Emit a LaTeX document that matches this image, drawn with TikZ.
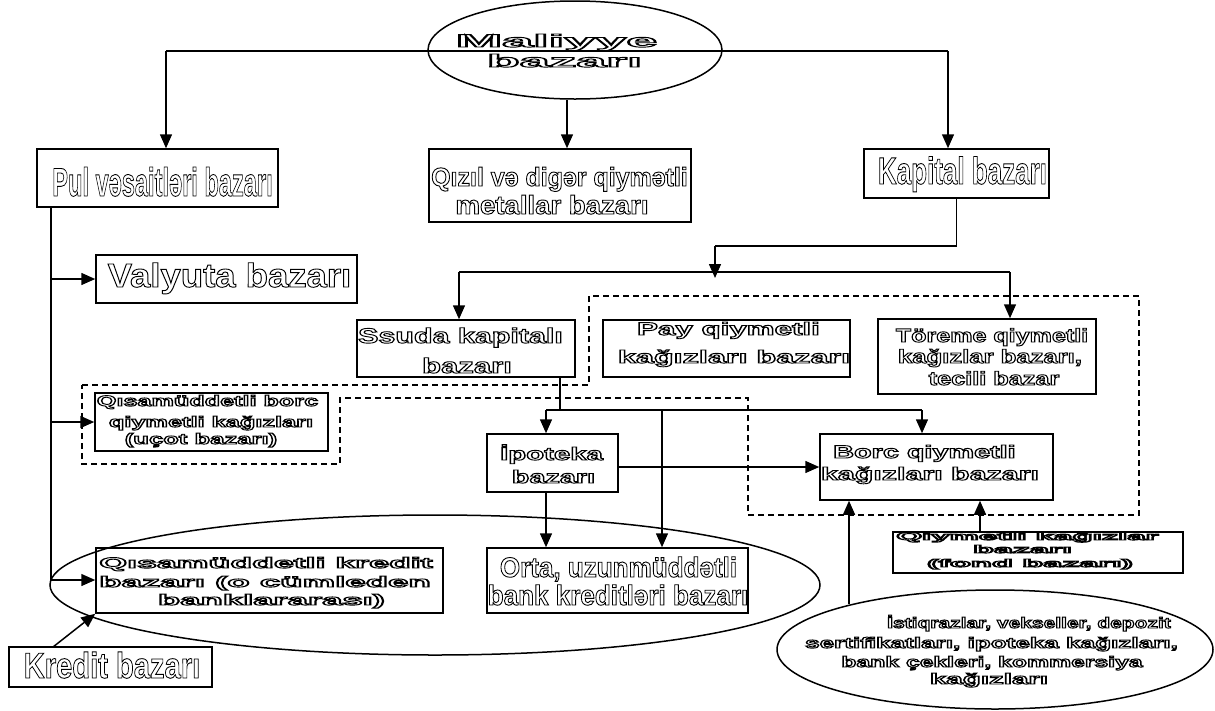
\documentclass[tikz,border=0pt]{standalone}
\usepackage{fontspec}
\setmainfont{Liberation Sans}
\usepackage{graphicx}
\usetikzlibrary{arrows.meta,shapes.geometric}
\newcommand\hollowtext{\special{pdf:literal direct 1 Tr 0.9 w}}
\newcommand\solidtext{\special{pdf:literal direct 0 Tr}}
\newcommand\tline[6]{\node[txt,font=\bfseries\fontsize{#4}{#4}\selectfont] (#1) at (#2,#3) {\hollowtext\scalebox{#5}[1]{#6}\solidtext};}
\begin{document}
\begin{tikzpicture}[x=1pt,y=-1pt,
  box/.style={draw,rectangle,line width=1.5pt,inner sep=0pt},
  ell/.style={draw,ellipse,line width=1.5pt,inner sep=0pt},
  conn/.style={line width=1.5pt},
  arr/.style={line width=1.5pt,-{Triangle[length=14pt,width=12pt]}},
  dsh/.style={line width=1.4pt,dash pattern=on 6pt off 4pt},
  txt/.style={anchor=base,inner sep=0pt}]
\useasboundingbox (0,0) rectangle (1215,710);

% ellipses
\node[ell,minimum width=294pt,minimum height=98pt] (mal) at (575,50) {};
\node[ell,minimum width=770pt,minimum height=140pt] (kell) at (435,585) {};
\node[ell,minimum width=436pt,minimum height=119pt] (iell) at (995,649.5) {};

% boxes
\node[box,minimum width=241pt,minimum height=58pt] (pul) at (157.5,178) {};
\node[box,minimum width=262pt,minimum height=73pt] (qiz) at (560,185.5) {};
\node[box,minimum width=185pt,minimum height=49pt] (kap) at (956.5,173.5) {};
\node[box,minimum width=261pt,minimum height=48pt] (val) at (226.5,279) {};
\node[box,minimum width=218pt,minimum height=57pt] (ssu) at (466,348.5) {};
\node[box,minimum width=247pt,minimum height=57pt] (pay) at (726.5,348.5) {};
\node[box,minimum width=218pt,minimum height=75pt] (tor) at (987,356.5) {};
\node[box,minimum width=233pt,minimum height=58pt] (qbo) at (211.5,422) {};
\node[box,minimum width=131pt,minimum height=58pt] (ipo) at (552.5,463) {};
\node[box,minimum width=233pt,minimum height=66pt] (bor) at (936.5,467) {};
\node[box,minimum width=261pt,minimum height=65pt] (ort) at (617.5,580.5) {};
\node[box,minimum width=347pt,minimum height=65pt] (qkr) at (269.5,580.5) {};
\node[box,minimum width=203pt,minimum height=40pt] (kre) at (110.5,667) {};
\node[box,minimum width=290pt,minimum height=41pt] (fon) at (1038,552.5) {};

% dashed region
\draw[dsh] (82,385) -- (589,385) -- (589,296) -- (1139,296) -- (1139,515) -- (748,515)
  -- (748,398) -- (340,398) -- (340,464) -- (82,464) -- cycle;

% connectors from Maliyye bazari
\coordinate (jl) at (166,51);
\coordinate (jr) at (948,51);
\draw[conn] (jl) -- (jr);
\draw[arr] (jl) -- (jl |- pul.north);
\draw[arr] (jr) -- (jr |- kap.north);
\draw[arr] ([xshift=-8pt]mal.south) -- ([xshift=-8pt]mal.south |- qiz.north);

% Pul vesaitleri branch
\coordinate (pl) at (51,580);
\draw[conn] (pul.south -| pl) -- (pl);
\draw[arr] (pl |- val.west) -- (val.west);
\draw[arr] (pl |- qbo.west) -- (qbo.west);
\draw[arr] (pl) -- (pl -| qkr.west);
\coordinate (kr) at (53,647);
\draw[arr] (kr) -- (qkr.south west);

% Kapital branch
\coordinate (k1) at (956.5,246);
\coordinate (k2) at (715,246);
\coordinate (k3) at (715,278);
\draw[conn] (kap.south) -- (k1) -- (k2);
\draw[arr] (k2) -- (k3);
\coordinate (h1) at (459,272);
\coordinate (h2) at (1010,272);
\draw[conn] (h1) -- (h2);
\draw[arr] (h1) -- (h1 |- ssu.north);
\draw[arr] (h2) -- (h2 |- tor.north);

% Ssuda branch
\coordinate (s0) at (560,410);
\coordinate (s1) at (546,410);
\coordinate (s2) at (922,410);
\coordinate (s3) at (662,410);
\draw[conn] (s0 |- ssu.south) -- (s0);
\draw[conn] (s1) -- (s2);
\draw[arr] (s1) -- (s1 |- ipo.north);
\draw[arr] (s2) -- (s2 |- bor.north);
\draw[arr] (s3) -- (s3 |- ort.north);
\draw[arr] (s1 |- ipo.south) -- (s1 |- ort.north);
\coordinate (ib) at (618,467);
\draw[arr] (ib) -- (ib -| bor.west);
\coordinate (e1) at (849,604);
\draw[arr] (e1) -- (e1 |- bor.south);
\coordinate (f1) at (980,532);
\draw[arr] (f1) -- (f1 |- bor.south);

% texts
\tline{t1}{556.5}{47}{18}{3.1}{Maliyye}
\tline{t2}{564.5}{67}{18}{2.98}{bazarı}
\tline{t3}{162.5}{196}{40}{0.59}{Pul vəsaitləri bazarı}
\tline{t4}{559.5}{186}{26}{0.96}{Qızıl və digər qiymətli}
\tline{t5}{552}{214}{26}{1.06}{metallar bazarı}
\tline{t6}{962.5}{184}{38}{0.684}{Kapital bazarı}
\tline{t7}{229.5}{287}{33.5}{1.09}{Valyuta bazarı}
\tline{t8}{460.5}{343}{21}{1.45}{Ssuda kapitalı}
\tline{t9}{467}{373}{21}{1.48}{bazarı}
\tline{t10}{728.5}{335}{18}{1.74}{Pay qiymetli}
\tline{t11}{734}{363}{18}{1.8}{kağızları bazarı}
\tline{t12}{992}{342}{19}{1.32}{Töreme qiymetli}
\tline{t13}{990}{363}{19}{1.35}{kağızlar bazarı,}
\tline{t14}{994}{385}{19}{1.33}{tecili bazar}
\tline{t15}{207.5}{406}{15}{1.68}{Qısamüddetli borc}
\tline{t16}{211}{427}{15}{1.69}{qiymetli kağızları}
\tline{t17}{201}{444}{15}{1.71}{(uçot bazarı)}
\tline{t18}{551.5}{460}{18}{1.63}{İpoteka}
\tline{t19}{553.5}{483}{18}{1.6}{bazarı}
\tline{t20}{924.5}{458}{18}{1.6}{Borc qiymetli}
\tline{t21}{930}{480}{18}{1.69}{kağızları bazarı}
\tline{t22}{618.5}{577}{28}{0.93}{Orta, uzunmüddətli}
\tline{t23}{618}{605}{28}{0.93}{bank kreditləri bazarı}
\tline{t24}{266}{568}{15}{2.38}{Qısamüddetli kredit}
\tline{t25}{265}{587}{15}{2.44}{bazarı (o cümleden}
\tline{t26}{271.5}{605}{15}{2.43}{banklararası)}
\tline{t27}{112}{678}{36}{0.81}{Kredit bazarı}
\tline{t28}{1027.5}{540}{11}{3.0}{Qiymetli kağızlar}
\tline{t29}{1022.5}{553}{11}{3.11}{bazarı}
\tline{t30}{1030}{567}{11}{3.12}{(fond bazarı)}
\tline{t31}{1029}{628}{15}{1.40}{İstiqrazlar, vekseller, depozit}
\tline{t32}{991.5}{648}{15}{1.74}{sertifikatları, ipoteka kağızları,}
\tline{t33}{992}{667}{15}{1.65}{bank çekleri, kommersiya}
\tline{t34}{989}{684}{15}{1.97}{kağızları}
\end{tikzpicture}
\end{document}
